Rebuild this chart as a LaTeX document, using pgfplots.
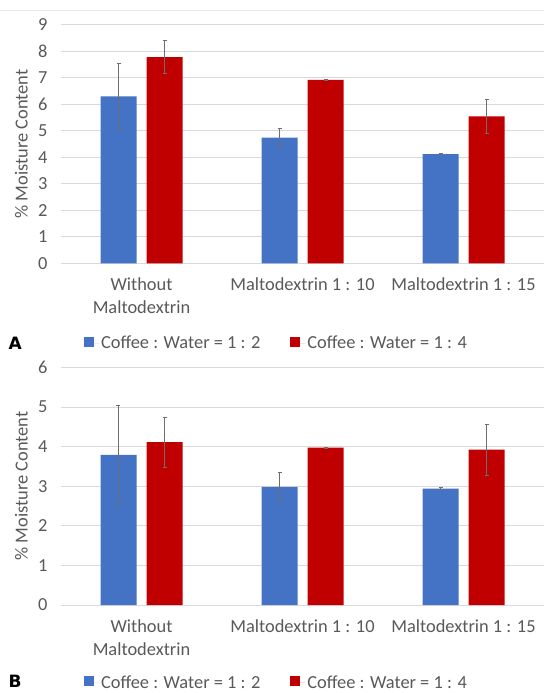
\documentclass[border=0pt]{standalone}
\usepackage{fontspec}
\setmainfont{Carlito}
\newfontfamily\lblfont{DejaVu Sans}
\usepackage{pgfplots}
\pgfplotsset{compat=1.18}
\definecolor{barblue}{HTML}{4472C4}
\definecolor{barred}{HTML}{C00000}
\definecolor{txtgray}{HTML}{595959}
\definecolor{gridgray}{HTML}{D9D9D9}
\definecolor{errgray}{HTML}{6E6E6E}
\pgfplotsset{
  mybars/.style={
    ybar, bar width=36pt,
    scale only axis, width=483pt,
    xmin=-0.5, xmax=2.5, ymin=0,
    xtick={0,1,2},
    xticklabels={{Without\\Maltodextrin},{Maltodextrin 1 : 10},{Maltodextrin 1 : 15}},
    xticklabel style={align=center, anchor=north, yshift=-11pt, text=txtgray, font=\fontsize{18.4}{23}\selectfont},
    yticklabel style={xshift=-10pt, text=txtgray, font=\fontsize{18.4}{23}\selectfont},
    /pgf/number format/assume math mode=true,
    major tick length=0pt,
    axis line style={draw=none},
    ymajorgrids, grid style={gridgray, line width=0.8pt},
    ylabel={\% Moisture Content},
    every axis y label/.style={at={(axis description cs:-0.0818,0.5)}, rotate=90, anchor=center, text=txtgray, font=\fontsize{18.4}{23}\selectfont},
    legend columns=2,
    legend style={draw=none, fill=none, text=txtgray, font=\fontsize{18.4}{23}\selectfont,
      /tikz/every even column/.append style={column sep=28pt}},
    clip=false,
  },
  myerr/.style={error bars/.cd, y dir=both, y explicit,
    error bar style={errgray, line width=0.7pt},
    error mark options={rotate=90, errgray, mark size=2pt, line width=0.7pt}, /pgfplots/.cd},
  bluelegend/.style={legend image code/.code={\path (0pt,0pt) -- (15pt,0pt); \fill[barblue] (0pt,-4pt) rectangle (10pt,6pt);}},
  redlegend/.style={legend image code/.code={\path (0pt,0pt) -- (15pt,0pt); \fill[barred] (0pt,-4pt) rectangle (10pt,6pt);}},
}
\begin{document}
\begin{tikzpicture}
\path[use as bounding box] (0,0) rectangle (544pt,693pt);
\draw[gridgray!60, line width=0.6pt] (0,683pt) -- (544pt,683pt);
% ---------- A ----------
\begin{axis}[mybars, at={(61pt,429.7pt)}, anchor=south west, height=238.6pt, ymax=9, ytick={0,...,9},
  legend style={at={(axis description cs:0.446,-0.335)}, anchor=center}]
\addplot[bar shift=-23pt, fill=barblue, draw=none, bluelegend, myerr]
  coordinates {(0,6.30) +- (0,1.25) (1,4.74) +- (0,0.35) (2,4.12) +- (0,0.02)};
\addlegendentry{Coffee : Water = 1 : 2}
\addplot[bar shift=23pt, fill=barred, draw=none, redlegend, myerr]
  coordinates {(0,7.78) +- (0,0.63) (1,6.92) +- (0,0.01) (2,5.54) +- (0,0.64)};
\addlegendentry{Coffee : Water = 1 : 4}
\node[font=\lblfont\bfseries\fontsize{17}{20}\selectfont, anchor=base west] at (axis description cs:-0.116,-0.36) {A};
\end{axis}
% ---------- B ----------
\begin{axis}[mybars, at={(61pt,88pt)}, anchor=south west, height=237.7pt, ymax=6, ytick={0,...,6},
  legend style={at={(axis description cs:0.446,-0.326)}, anchor=center}]
\addplot[bar shift=-23pt, fill=barblue, draw=none, bluelegend, myerr]
  coordinates {(0,3.79) +- (0,1.26) (1,2.98) +- (0,0.37) (2,2.94) +- (0,0.03)};
\addlegendentry{Coffee : Water = 1 : 2}
\addplot[bar shift=23pt, fill=barred, draw=none, redlegend, myerr]
  coordinates {(0,4.11) +- (0,0.63) (1,3.97) +- (0,0.01) (2,3.92) +- (0,0.65)};
\addlegendentry{Coffee : Water = 1 : 4}
\node[font=\lblfont\bfseries\fontsize{17}{20}\selectfont, anchor=base west] at (axis description cs:-0.116,-0.345) {B};
\end{axis}
\end{tikzpicture}
\end{document}
